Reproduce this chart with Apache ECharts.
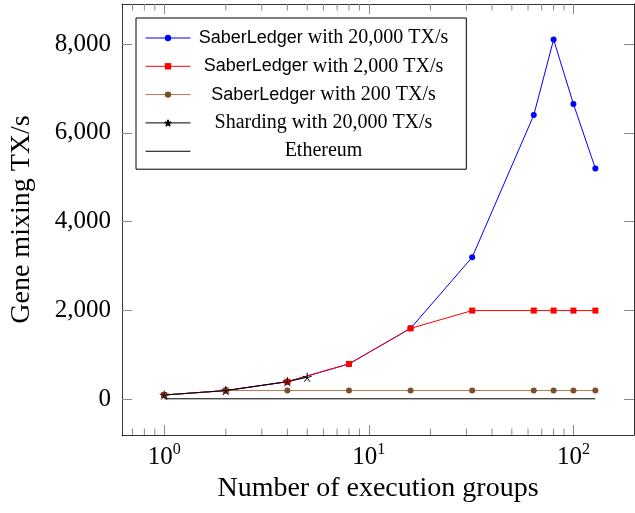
<!DOCTYPE html>
<html><head><meta charset="utf-8">
<script src="https://cdn.jsdelivr.net/npm/echarts@6/dist/echarts.min.js"></script>
<style>html,body{margin:0;padding:0;background:#fff}#c{width:635px;height:513px}</style>
</head><body><div id="c"></div>
<script>
// ---- data ----
const groups = [1, 2, 4, 8, 16, 32, 64, 80, 100, 128];
const saber20000 = [100, 200, 400, 800, 1600, 3200, 6400, 8100, 6650, 5200];
const saber2000 = [100, 200, 400, 800, 1600, 2000, 2000, 2000, 2000, 2000];
const saber200 = [100, 200, 200, 200, 200, 200, 200, 200, 200, 200];
const shardingGroups = [1, 2, 4, 5];
const sharding20000 = [100, 200, 400, 500];
const ethereumGroups = [1, 128];
const ethereum = [15, 15];
const yTicks = [0, 2000, 4000, 6000, 8000];
const xMajorTicks = [1, 10, 100];
const xMinorTicks = [0.7, 0.8, 0.9, 2, 3, 4, 5, 6, 7, 8, 9, 20, 30, 40, 50, 60, 70, 80, 90];
const seriesNames = ['SaberLedger with 20,000 TX/s', 'SaberLedger with 2,000 TX/s', 'SaberLedger with 200 TX/s', 'Sharding with 20,000 TX/s', 'Ethereum'];

// axis limits (pgfplots-style enlarged limits)
const xMin = 0.622, xMax = 197.7;
const yMin = -800, yMax = 8900;

const SERIF = '"Liberation Serif", "Times New Roman", serif';
const SANS = '"Liberation Sans", Arial, sans-serif';
const TICK = '#8a8a8a';
const FRAME = '#333';

const pair = (xs, ys) => xs.map((x, i) => [x, ys[i]]);
const commas = v => String(v).replace(/\B(?=(\d{3})+(?!\d))/g, ',');

const starPath = 'path://M0 0L0 -10M0 0L9.51 -3.09M0 0L5.88 8.09M0 0L-5.88 8.09M0 0L-9.51 -3.09';

const chart = echarts.init(document.getElementById('c'), null, {renderer: 'canvas'});

const xAxisCommon = {
  type: 'log', logBase: 10, min: xMin, max: xMax,
  axisLine: {show: true, onZero: false, lineStyle: {color: FRAME, width: 1}},
  splitLine: {show: false},
  axisTick: {show: true, inside: true, length: 10, customValues: xMajorTicks, lineStyle: {color: TICK, width: 1}}
};
const yAxisCommon = {
  type: 'value', min: yMin, max: yMax,
  axisLine: {show: true, onZero: false, lineStyle: {color: FRAME, width: 1}},
  splitLine: {show: false},
  axisTick: {show: true, inside: true, length: 10, customValues: yTicks, lineStyle: {color: TICK, width: 1}}
};

const option = {
  animation: false,
  backgroundColor: '#fff',
  grid: {left: 121, right: 1, top: 4, bottom: 78, containLabel: false},
  xAxis: [
    Object.assign({}, xAxisCommon, {
      position: 'bottom',
      name: 'Number of execution groups', nameLocation: 'middle', nameGap: 39,
      nameTextStyle: {fontFamily: SERIF, fontSize: 28, color: '#000'},
      axisLabel: {
        show: true, margin: 7, customValues: xMajorTicks,
        formatter: v => {
          const l = Math.log10(v), e = Math.round(l);
          if (Math.abs(l - e) > 1e-6) return '';
          return '{b|10}{e|' + e + '}';
        },
        rich: {
          b: {fontFamily: SERIF, fontSize: 25, color: '#000', lineHeight: 30},
          e: {fontFamily: SERIF, fontSize: 16, color: '#000', lineHeight: 18, verticalAlign: 'top'}
        }
      }
    }),
    Object.assign({}, xAxisCommon, {position: 'top', axisLabel: {show: false}})
  ],
  yAxis: [
    Object.assign({}, yAxisCommon, {
      position: 'left',
      name: 'Gene mixing TX/s', nameLocation: 'middle', nameGap: 86,
      nameTextStyle: {fontFamily: SERIF, fontSize: 28, color: '#000'},
      axisLabel: {
        show: true, margin: 11, customValues: yTicks,
        formatter: v => yTicks.indexOf(v) >= 0 ? commas(v) : '',
        fontFamily: SERIF, fontSize: 25, color: '#000'
      }
    }),
    Object.assign({}, yAxisCommon, {position: 'right', axisLabel: {show: false}})
  ],
  legend: {
    orient: 'vertical', left: 136, top: 18,
    data: seriesNames.slice(0, 4).concat([{name: seriesNames[4], icon: 'path://M0 0H45V1H0Z'}]),
    backgroundColor: '#fff', borderColor: '#000', borderWidth: 1, borderRadius: 0,
    padding: [10, 18, 8, 9],
    itemWidth: 45, itemHeight: 8, itemGap: 8.3,
    lineStyle: {width: 1},
    selectedMode: false,
    formatter: name => {
      if (name.indexOf('SaberLedger') === 0) return '{s|SaberLedger}{r|' + name.slice(11) + '}';
      return '{r|' + name + '}';
    },
    textStyle: {
      width: 256, color: '#000',
      rich: {
        s: {fontFamily: SANS, fontSize: 18, lineHeight: 20, color: '#000', align: 'center'},
        r: {fontFamily: SERIF, fontSize: 20, lineHeight: 20, color: '#000', align: 'center'}
      }
    }
  },
  series: [
    {
      name: seriesNames[0], type: 'line', data: pair(groups, saber20000),
      symbol: 'circle', symbolSize: 6, color: '#0000ff',
      lineStyle: {color: '#0000ff', width: 1}, itemStyle: {color: '#0000ff', borderWidth: 0}
    },
    {
      name: seriesNames[1], type: 'line', data: pair(groups, saber2000),
      symbol: 'rect', symbolSize: 6, color: '#ff0000',
      lineStyle: {color: '#ff0000', width: 1}, itemStyle: {color: '#ff0000', borderWidth: 0}
    },
    {
      name: seriesNames[2], type: 'line', data: pair(groups, saber200),
      symbol: 'circle', symbolSize: 6, color: '#7a5128',
      lineStyle: {color: '#a87a4e', width: 1}, itemStyle: {color: '#7a5128', borderWidth: 0}
    },
    {
      name: seriesNames[3], type: 'line', data: pair(shardingGroups, sharding20000),
      symbol: starPath, symbolSize: 9, color: '#000',
      lineStyle: {color: '#000', width: 1}, itemStyle: {color: '#000', borderColor: '#000', borderWidth: 1}
    },
    {
      name: seriesNames[4], type: 'line', data: pair(ethereumGroups, ethereum),
      symbol: 'none', color: '#000',
      lineStyle: {color: '#000', width: 1}
    },
    {
      name: 'minorTicks', type: 'custom', silent: true, clip: false,
      data: xMinorTicks.map(v => [v, 0]),
      encode: {x: 0, y: 1},
      renderItem: (params, api) => {
        const v = api.value(0);
        const b = api.coord([v, yMin]);
        const t = api.coord([v, yMax]);
        const st = {stroke: TICK, lineWidth: 1};
        return {type: 'group', children: [
          {type: 'line', shape: {x1: b[0], y1: b[1], x2: b[0], y2: b[1] - 6.5}, style: st},
          {type: 'line', shape: {x1: t[0], y1: t[1], x2: t[0], y2: t[1] + 6.5}, style: st}
        ]};
      }
    }
  ]
};
chart.setOption(option);
</script>
</body></html>
